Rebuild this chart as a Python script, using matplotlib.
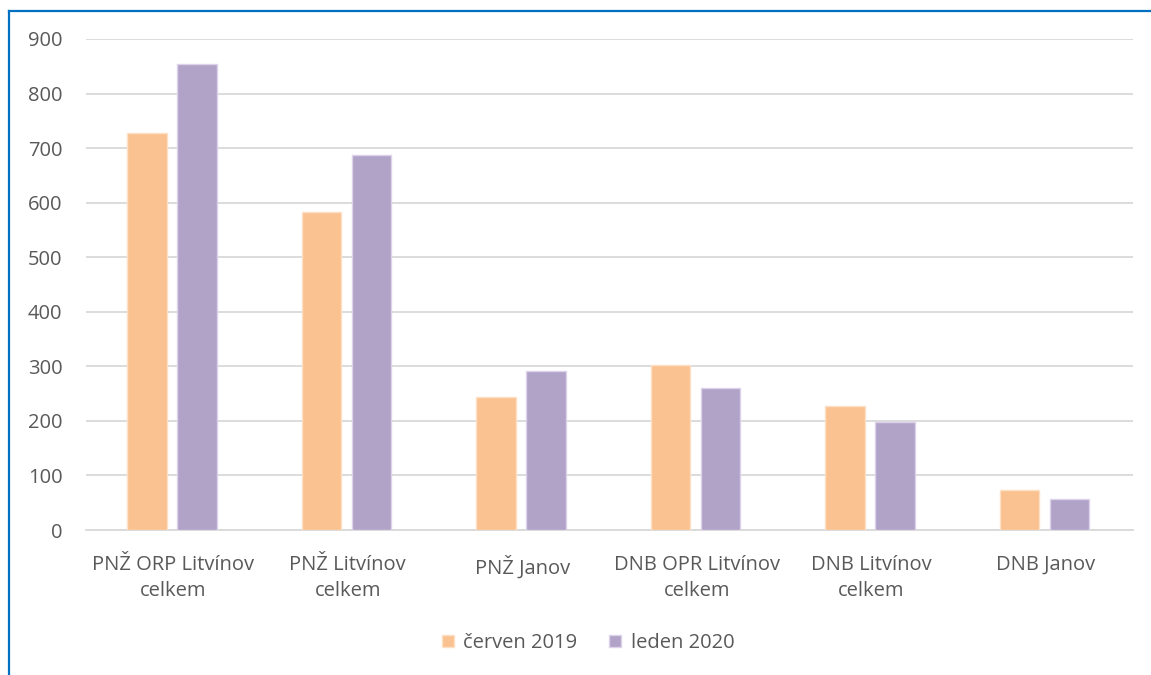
import matplotlib
matplotlib.use("Agg")
import matplotlib.pyplot as plt
from matplotlib.lines import Line2D
import numpy as np

categories = ["PNŽ ORP Litvínov\ncelkem", "PNŽ Litvínov\ncelkem", "PNŽ Janov",
              "DNB OPR Litvínov\ncelkem", "DNB Litvínov\ncelkem", "DNB Janov"]
series_names = ["červen 2019", "leden 2020"]
cerven_2019 = [727, 583, 244, 302, 227, 73]
leden_2020 = [854, 687, 291, 260, 198, 57]
yticks = [0, 100, 200, 300, 400, 500, 600, 700, 800, 900]

colors = ["#F9C290", "#B1A2C8"]
edge = ["#FDE0C6", "#DCD3EA"]
text_color = "#595959"
plt.rcParams['font.family'] = ['Open Sans', 'DejaVu Sans']

fig = plt.figure(figsize=(11.51, 6.75), dpi=100)
W, H = 1151, 675
ax = fig.add_axes([86 / W, 1 - 530 / H, (1133 - 86) / W, (530 - 39) / H])

x = np.arange(len(categories))
bw = 0.226
off = 0.143
ax.bar(x - off - 0.008, cerven_2019, bw, color=colors[0], edgecolor=edge[0], linewidth=1, label=series_names[0], zorder=3)
ax.bar(x + off - 0.008, leden_2020, bw, color=colors[1], edgecolor=edge[1], linewidth=1, label=series_names[1], zorder=3)

ax.set_xlim(-0.5, len(categories) - 0.5)
ax.set_ylim(0, 900)
ax.set_yticks(yticks)
ax.set_yticklabels([str(v) for v in yticks])
ax.set_xticks(x)
ax.set_xticklabels(categories, linespacing=1.4)
ax.tick_params(axis='both', length=0, labelsize=14.5, colors=text_color)
ax.tick_params(axis='y', pad=17)
ax.tick_params(axis='x', pad=18)
ax.grid(axis='y', color="#D9D9D9", linewidth=1.3, zorder=0)
for s in ["top", "right", "left"]:
    ax.spines[s].set_visible(False)
ax.spines["bottom"].set_color("#D9D9D9")
ax.spines["bottom"].set_linewidth(1.3)

leg = fig.legend(loc="center", bbox_to_anchor=(588 / W, 1 - 643 / H), ncol=2, frameon=False,
                 fontsize=14.5, handlelength=0.6, handleheight=0.6, handletextpad=0.45,
                 columnspacing=1.6)
for t in leg.get_texts():
    t.set_color(text_color)

# blue frame (top and left edges visible)
fig.add_artist(Line2D([8.5 / W, 1.0], [1 - 10.5 / H, 1 - 10.5 / H], color="#0070C0", linewidth=1.6, transform=fig.transFigure))
fig.add_artist(Line2D([8.5 / W, 8.5 / W], [0, 1 - 10.5 / H], color="#0070C0", linewidth=1.6, transform=fig.transFigure))

fig.savefig("out.png", dpi=100)
